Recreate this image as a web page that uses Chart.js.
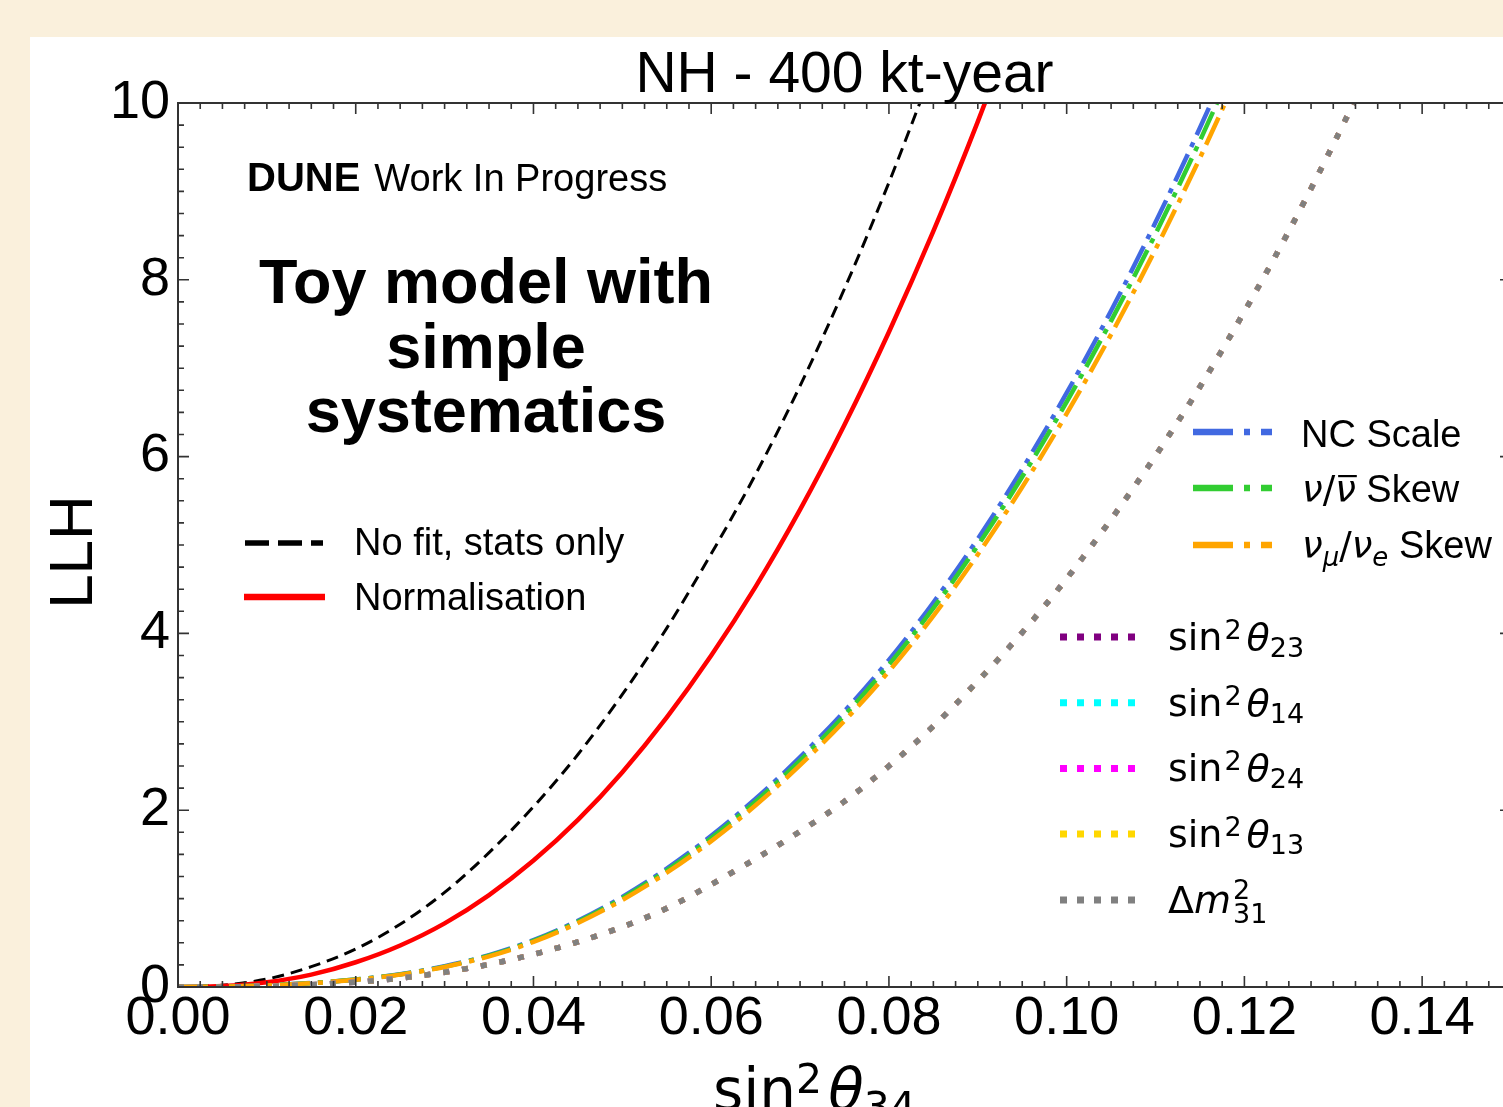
<!DOCTYPE html>
<html>
<head>
<meta charset="utf-8">
<title>NH - 400 kt-year</title>
<script src="https://cdn.jsdelivr.net/npm/chart.js@4.4.0/dist/chart.umd.min.js"></script>
<style>
  html, body { margin: 0; padding: 0; width: 1503px; height: 1107px; overflow: hidden; background: #faf0dc; }
  #panel { position: absolute; left: 30px; top: 37px; width: 1520px; height: 1120px; background: #fff; }
  canvas { display: block; }
</style>
</head>
<body>
<div id="panel"><canvas id="llh" width="1520" height="1120"></canvas></div>
<script>
// sin^2(theta_34) sample points
const sin2Theta34 = [0, 0.005, 0.01, 0.015, 0.02, 0.025, 0.03, 0.035, 0.04, 0.045, 0.05, 0.055, 0.06, 0.065,
                     0.07, 0.075, 0.08, 0.085, 0.09, 0.095, 0.10, 0.105, 0.11, 0.115, 0.12, 0.125, 0.13, 0.135];

// LLH values
const llhNoFit = [0, 0.02, 0.09, 0.23, 0.43, 0.71, 1.07, 1.52, 2.04, 2.63, 3.31, 4.06, 4.9, 5.8, 6.8, 7.9, 9.1, 10.4];
const llhNormalisation = [0, 0.01, 0.054, 0.14, 0.28, 0.47, 0.72, 1.04, 1.43, 1.89, 2.43, 3.05, 3.75, 4.53, 5.40, 6.36,
                          7.41, 8.55, 9.79, 11.13];
const llhNcScale = [0, 0.004, 0.018, 0.045, 0.085, 0.145, 0.235, 0.36, 0.53, 0.75, 1.02, 1.34, 1.71, 2.13, 2.60, 3.12,
                    3.70, 4.35, 5.07, 5.86, 6.72, 7.65, 8.65, 9.72, 10.86];
const llhNuNubarSkew = [0, 0.004, 0.018, 0.044, 0.084, 0.143, 0.231, 0.355, 0.522, 0.739, 1.005, 1.32, 1.684, 2.098,
                        2.561, 3.073, 3.645, 4.285, 4.994, 5.772, 6.619, 7.535, 8.52, 9.574, 10.697];
const llhNumuNueSkew = [0, 0.004, 0.017, 0.043, 0.082, 0.14, 0.227, 0.347, 0.511, 0.724, 0.984, 1.293, 1.65, 2.055,
                        2.509, 3.011, 3.571, 4.198, 4.893, 5.655, 6.485, 7.382, 8.347, 9.38, 10.48];
// the four mixing angles and dm31 lie on top of each other
const llhOscParams = [0, 0.001, 0.008, 0.025, 0.055, 0.10, 0.167, 0.256, 0.37, 0.51, 0.68, 0.89, 1.16, 1.45, 1.76, 2.1,
                      2.5, 2.95, 3.46, 4.01, 4.62, 5.29, 6.01, 6.79, 7.64, 8.55, 9.53, 10.57];

const xTickValues = [0, 0.02, 0.04, 0.06, 0.08, 0.10, 0.12, 0.14];
const yTickValues = [0, 2, 4, 6, 8, 10];

function pts(vals) {
    return vals.map((v, i) => ({ x: sin2Theta34[i], y: v }));
}

const DASHDOT = [30, 8, 5, 8];
const DOTTED = [6, 13];

const datasets = [
    { label: 'No fit, stats only', data: pts(llhNoFit), borderColor: '#000', borderWidth: 3, borderDash: [12, 7] },
    { label: 'Normalisation', data: pts(llhNormalisation), borderColor: '#ff0000', borderWidth: 4.5 },
    { label: 'NC Scale', data: pts(llhNcScale), borderColor: '#4169e1', borderWidth: 4.5, borderDash: DASHDOT },
    { label: 'nu/nubar Skew', data: pts(llhNuNubarSkew), borderColor: '#32cd32', borderWidth: 4.5, borderDash: DASHDOT },
    { label: 'numu/nue Skew', data: pts(llhNumuNueSkew), borderColor: '#ffa500', borderWidth: 4.5, borderDash: DASHDOT },
    { label: 'sin2 th23', data: pts(llhOscParams), borderColor: '#800080', borderWidth: 5.5, borderDash: DOTTED },
    { label: 'sin2 th14', data: pts(llhOscParams), borderColor: '#00ffff', borderWidth: 5.5, borderDash: DOTTED },
    { label: 'sin2 th24', data: pts(llhOscParams), borderColor: '#ff00ff', borderWidth: 5.5, borderDash: DOTTED },
    { label: 'sin2 th13', data: pts(llhOscParams), borderColor: '#ffd700', borderWidth: 5.5, borderDash: DOTTED },
    { label: 'dm31', data: pts(llhOscParams), borderColor: '#808080', borderWidth: 5.5, borderDash: DOTTED }
];
// later datasets on top, like matplotlib
datasets.forEach((d, i) => { d.order = datasets.length - i; d.fill = false; });

const SANS = '"Liberation Sans", Arial, sans-serif';
const MATH = '"DejaVu Sans", sans-serif';

// draw a row of text pieces (mathtext-ish)
function drawRuns(ctx, x, y, runs) {
    runs.forEach(r => {
        ctx.font = r.font;
        if (r.dx) x += r.dx;
        ctx.fillText(r.t, x, y + (r.dy || 0));
        const w = ctx.measureText(r.t).width;
        if (r.over) ctx.fillRect(x + 3, y - 27, w - 2, 2.2);
        if (!r.stay) x += w;
    });
    return x;
}

function handle(ctx, x0, x1, y, color, width, dash) {
    ctx.beginPath();
    ctx.setLineDash(dash || []);
    ctx.lineDashOffset = 0;
    ctx.lineCap = 'butt';
    ctx.strokeStyle = color;
    ctx.lineWidth = width;
    ctx.moveTo(x0, y);
    ctx.lineTo(x1, y);
    ctx.stroke();
    ctx.setLineDash([]);
}

const overlay = {
    id: 'overlay',
    afterDraw(chart) {
        const ctx = chart.ctx, a = chart.chartArea;
        const sx = chart.scales.x, sy = chart.scales.y;
        ctx.save();

        // frame
        ctx.strokeStyle = '#333';
        ctx.lineWidth = 2;
        ctx.strokeRect(a.left, a.top, a.right - a.left, a.bottom - a.top);

        // inward ticks on all four sides
        ctx.beginPath();
        for (let i = 0; i <= 60; i++) {
            const px = sx.getPixelForValue(i * 0.0025);
            const len = i % 8 === 0 ? 11 : 6;
            ctx.moveTo(px, a.bottom); ctx.lineTo(px, a.bottom - len);
            ctx.moveTo(px, a.top); ctx.lineTo(px, a.top + len);
        }
        for (let i = 0; i <= 40; i++) {
            const py = sy.getPixelForValue(i * 0.25);
            const len = i % 8 === 0 ? 11 : 6;
            ctx.moveTo(a.left, py); ctx.lineTo(a.left + len, py);
            ctx.moveTo(a.right, py); ctx.lineTo(a.right - len, py);
        }
        ctx.lineWidth = 1.6;
        ctx.stroke();

        ctx.fillStyle = '#000';
        ctx.textBaseline = 'alphabetic';

        // title
        ctx.textAlign = 'center';
        ctx.font = '57px ' + SANS;
        ctx.fillText('NH - 400 kt-year', (a.left + a.right) / 2, 55);

        // y title
        ctx.save();
        ctx.translate(45, 515);
        ctx.rotate(-Math.PI / 2);
        ctx.textBaseline = 'middle';
        ctx.font = '62px ' + SANS;
        ctx.fillText('LLH', 0, 0);
        ctx.restore();

        // big annotation
        ctx.font = 'bold 63px ' + SANS;
        ctx.fillText('Toy model with', 456, 266);
        ctx.fillText('simple', 456, 331);
        ctx.fillText('systematics', 456, 395);

        ctx.textAlign = 'left';
        drawRuns(ctx, 217, 154, [
            { t: 'DUNE', font: 'bold 40px ' + SANS },
            { t: 'Work In Progress', font: '38px ' + SANS, dx: 14 }
        ]);

        // x title
        const big = '58px ' + MATH, bigI = 'italic 58px ' + MATH, sm = '41px ' + MATH;
        drawRuns(ctx, 683, 1073, [
            { t: 'sin', font: big },
            { t: '2', font: sm, dy: -17 },
            { t: '\u03b8', font: bigI, dx: 6 },
            { t: '34', font: sm, dy: 11 }
        ]);

        // left legend
        handle(ctx, 215, 293, 506, '#000', 5.5, [24, 9]);
        handle(ctx, 214, 295, 560, '#ff0000', 6.5);
        ctx.font = '38px ' + SANS;
        ctx.fillText('No fit, stats only', 324, 518);
        ctx.fillText('Normalisation', 324, 573);

        // right legend (detector systematics)
        const dd = [40, 11, 6, 11];
        handle(ctx, 1163, 1242, 395, '#4169e1', 6.5, dd);
        handle(ctx, 1163, 1242, 451, '#32cd32', 6.5, dd);
        handle(ctx, 1163, 1242, 508, '#ffa500', 6.5, dd);
        const m = '37px ' + MATH, mi = 'italic 37px ' + MATH, msi = 'italic 26px ' + MATH;
        ctx.font = '38px ' + SANS;
        ctx.fillText('NC Scale', 1271, 410);
        drawRuns(ctx, 1272, 465, [
            { t: '\u03bd', font: mi },
            { t: '/', font: m },
            { t: '\u03bd', font: mi, over: true },
            { t: ' Skew', font: '38px ' + SANS }
        ]);
        drawRuns(ctx, 1272, 521, [
            { t: '\u03bd', font: mi },
            { t: '\u03bc', font: msi, dy: 8 },
            { t: '/', font: m },
            { t: '\u03bd', font: mi },
            { t: 'e', font: msi, dy: 8 },
            { t: ' Skew', font: '38px ' + SANS }
        ]);

        // right legend (oscillation parameters)
        const oscRows = [
            { c: '#800080', sub: '23' },
            { c: '#00ffff', sub: '14' },
            { c: '#ff00ff', sub: '24' },
            { c: '#ffd700', sub: '13' }
        ];
        const ls = '38px ' + MATH, lsi = 'italic 38px ' + MATH, lss = '27px ' + MATH;
        oscRows.forEach((r, i) => {
            const yy = 600 + i * 65.7;
            handle(ctx, 1030, 1105, yy, r.c, 7, [7, 10]);
            drawRuns(ctx, 1138, yy + 13, [
                { t: 'sin', font: ls },
                { t: '2', font: lss, dy: -11, dx: 2 },
                { t: '\u03b8', font: lsi, dx: 5 },
                { t: r.sub, font: lss, dy: 7 }
            ]);
        });
        handle(ctx, 1030, 1105, 863, '#808080', 7, [7, 10]);
        drawRuns(ctx, 1138, 876, [
            { t: '\u0394', font: ls },
            { t: 'm', font: lsi },
            { t: '2', font: lss, dy: -14, dx: 2, stay: true },
            { t: '31', font: lss, dy: 10 }
        ]);

        ctx.restore();
    }
};

new Chart(document.getElementById('llh'), {
    type: 'line',
    data: { datasets: datasets },
    options: {
        responsive: false,
        animation: false,
        layout: { padding: { top: 66, right: 39, left: 0, bottom: 0 } },
        plugins: { legend: { display: false }, tooltip: { enabled: false }, title: { display: false } },
        elements: {
            point: { radius: 0, hoverRadius: 0 },
            line: { borderCapStyle: 'butt', cubicInterpolationMode: 'monotone' }
        },
        scales: {
            x: {
                type: 'linear',
                min: 0,
                max: 0.15,
                grid: { display: false, drawTicks: false },
                border: { display: false },
                afterFit: s => { s.height = 170; },
                afterBuildTicks: s => { s.ticks = xTickValues.map(v => ({ value: v })); },
                ticks: {
                    font: { family: SANS, size: 54 },
                    color: '#000',
                    padding: 0,
                    maxRotation: 0,
                    autoSkip: false,
                    callback: v => Number(v).toFixed(2)
                }
            },
            y: {
                type: 'linear',
                min: 0,
                max: 10,
                grid: { display: false, drawTicks: false },
                border: { display: false },
                afterFit: s => { s.width = 148; },
                afterBuildTicks: s => { s.ticks = yTickValues.map(v => ({ value: v })); },
                ticks: {
                    font: { family: SANS, size: 54 },
                    color: '#000',
                    padding: 8,
                    autoSkip: false,
                    callback: v => String(v)
                }
            }
        }
    },
    plugins: [overlay]
});
</script>
</body>
</html>
